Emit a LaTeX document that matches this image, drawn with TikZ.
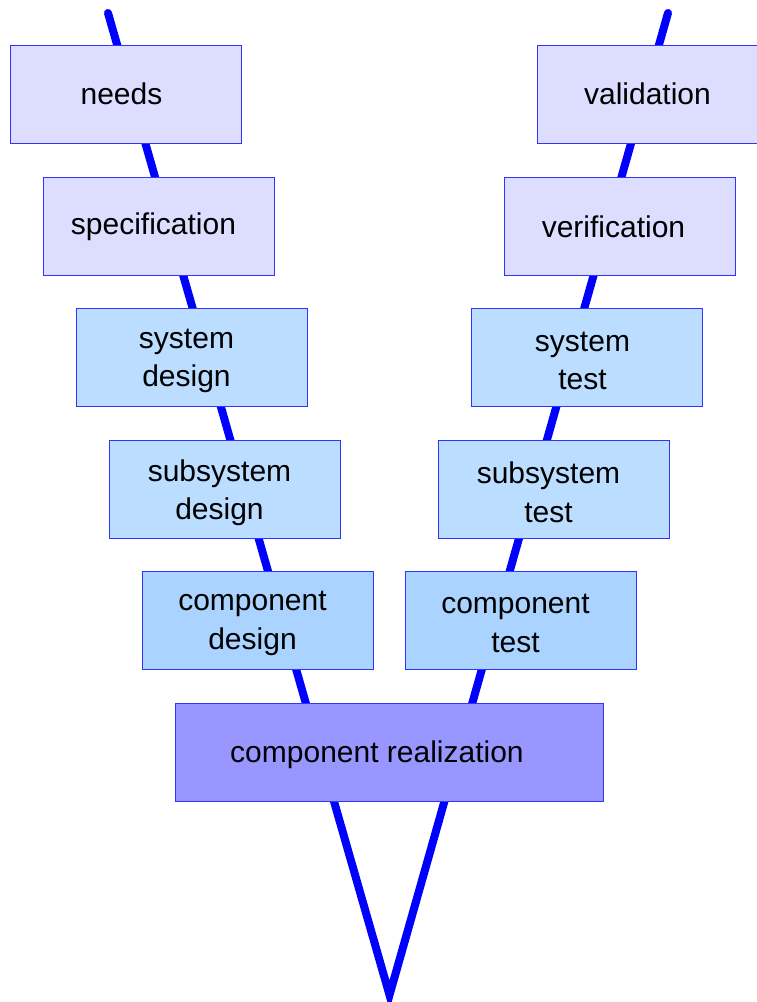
\documentclass[tikz,border=0pt]{standalone}
\usepackage{fontspec}
\setmainfont{Liberation Sans}
\begin{document}
\begin{tikzpicture}[x=1pt,y=-1pt,
  phase/.style={draw=blue!80!white, line width=0.9pt, minimum width=231pt, minimum height=98pt,
    inner sep=0pt},
  phasetext/.style={font=\fontsize{30}{38.5}\selectfont, align=center, text=black, inner sep=0pt},
  upper/.style={phase, fill=upperfill},
  middle/.style={phase, fill=midfill},
  lower/.style={phase, fill=lowfill},
  bottom/.style={phase, fill=realfill, minimum width=428pt},
  vline/.style={draw=blue, line width=8pt, line cap=round, line join=miter}]
\definecolor{upperfill}{HTML}{DDDDFF}
\definecolor{midfill}{HTML}{BBDDFF}
\definecolor{lowfill}{HTML}{AAD4FF}
\definecolor{realfill}{HTML}{9797FF}
\useasboundingbox (0,0) rectangle (757,1002);
% the V of the development process
\coordinate (vl) at (108,13);
\coordinate (vb) at (389.5,995);
\coordinate (vr) at (668,13);
\draw[vline] (vl) -- (vb) -- (vr);
% left branch
\node[upper]  (needs) at (125.5,94)   {};
\node[upper]  (spec)  at (158.5,226)  {};
\node[middle] (sysd)  at (191.5,357.5){};
\node[middle] (subd)  at (224.5,489)  {};
\node[lower]  (compd) at (257.5,620)  {};
% right branch
\node[upper]  (valid) at (652.5,94)   {};
\node[upper]  (verif) at (619.5,226)  {};
\node[middle] (syst)  at (586.5,357.5){};
\node[middle] (subt)  at (553.5,489)  {};
\node[lower]  (compt) at (520.5,620)  {};
% bottom
\node[bottom] (real)  at (389,752)    {};
% captions
\node[phasetext] (needs-t) at ([xshift=-4pt]needs.center) {needs};
\node[phasetext] (spec-t)  at ([xshift=-5pt,yshift=-1pt]spec.center)  {specification};
\node[phasetext] (sysd-t)  at ([xshift=-5pt,yshift=-3.5pt]sysd.center) {system\\design};
\node[phasetext] (subd-t)  at ([xshift=-5pt,yshift=-3.5pt]subd.center) {subsystem\\design};
\node[phasetext] (compd-t) at ([xshift=-5pt,yshift=-3.5pt]compd.center){component\\design};
\node[phasetext] (valid-t) at ([xshift=-5pt]valid.center)  {validation};
\node[phasetext] (verif-t) at ([xshift=-6pt,yshift=-1pt]verif.center) {verification};
\node[phasetext] (syst-t)  at ([xshift=-4pt,yshift=-3.5pt]syst.center) {system\\test};
\node[phasetext] (subt-t)  at ([xshift=-5pt,yshift=-3.5pt]subt.center) {subsystem\\test};
\node[phasetext] (compt-t) at ([xshift=-5pt,yshift=-3.5pt]compt.center){component\\test};
\node[phasetext] (real-t)  at ([xshift=-12pt,yshift=-3pt]real.center) {component realization};
\end{tikzpicture}
\end{document}
